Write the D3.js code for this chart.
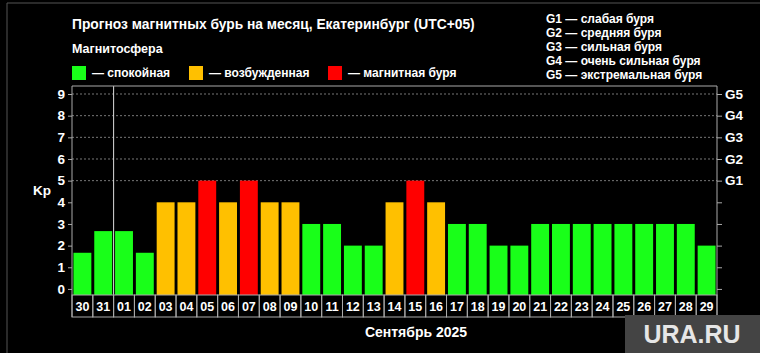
<!DOCTYPE html>
<html>
<script src="https://d3js.org/d3.v7.min.js"></script>
<style>
    body { margin: 0; background: #000; }
    text { font-family: "Liberation Sans", Arial, sans-serif; font-weight: bold; fill: #fff; }
</style>
<body></body>
<script>
    const width = 760, height = 353;

    const days = ["30", "31", "01", "02", "03", "04", "05", "06", "07", "08", "09", "10", "11", "12", "13", "14",
        "15", "16", "17", "18", "19", "20", "21", "22", "23", "24", "25", "26", "27", "28", "29"];
    const kp = [1.67, 2.67, 2.67, 1.67, 4, 4, 5, 4, 5, 4, 4, 3, 3, 2, 2, 4,
        5, 4, 3, 3, 2, 2, 3, 3, 3, 3, 3, 3, 3, 3, 2];
    const levels = ["спокойная", "возбужденная", "магнитная буря"];
    const levelColors = ["#19ff19", "#ffc000", "#ff0000"];
    const leftTicks = [0, 1, 2, 3, 4, 5, 6, 7, 8, 9];
    const gTicks = [5, 6, 7, 8, 9];
    const gLabels = ["G1", "G2", "G3", "G4", "G5"];
    const gNames = ["слабая буря", "средняя буря", "сильная буря", "очень сильная буря", "экстремальная буря"];

    const level = v => v >= 5 ? 2 : (v >= 4 ? 1 : 0);

    const svg = d3.select("body").append("svg").attr("width", width).attr("height", height);

    // frame
    svg.append("path").attr("d", "M7,353V3H760").attr("fill", "none").attr("stroke", "#555").attr("stroke-width", 1);

    const pLeft = 72, pRight = 717, pTop = 86, pBottom = 295, labelBottom = 317;
    const x = d3.scaleBand().domain(days).range([pLeft, pRight]).paddingInner(0.14).paddingOuter(0.07);
    const y = d3.scaleLinear().domain([-0.28, 9.37]).range([pBottom, pTop]);
    const step = x.step();

    // titles
    svg.append("text").attr("x", 72).attr("y", 29).attr("font-size", 13.8)
        .text("Прогноз магнитных бурь на месяц, Екатеринбург (UTC+05)");
    svg.append("text").attr("x", 72).attr("y", 53).attr("font-size", 12.5).text("Магнитосфера");

    const legX = [72, 189, 328];
    const leg = svg.selectAll(".leg").data(levels).join("g").attr("class", "leg")
        .attr("transform", (d, i) => `translate(${legX[i]},66)`);
    leg.append("rect").attr("width", 14).attr("height", 14).attr("fill", (d, i) => levelColors[i]);
    leg.append("text").attr("x", 20).attr("y", 11).attr("font-size", 12).text(d => "— " + d);

    svg.selectAll(".gleg").data(gNames).join("text").attr("class", "gleg")
        .attr("x", 546).attr("y", (d, i) => 23 + i * 14).attr("font-size", 12)
        .text((d, i) => gLabels[i] + " — " + d);

    // grid
    svg.selectAll(".grid").data(gTicks).join("line").attr("class", "grid")
        .attr("x1", pLeft).attr("x2", pRight).attr("y1", d => y(d)).attr("y2", d => y(d))
        .attr("stroke", "#777").attr("stroke-dasharray", "2,2");

    // bars
    svg.selectAll(".bar").data(kp).join("rect").attr("class", "bar")
        .attr("x", (d, i) => x(days[i])).attr("width", x.bandwidth())
        .attr("y", d => y(d)).attr("height", d => pBottom - y(d))
        .attr("fill", d => levelColors[level(d)]);

    // month separator
    const sep = x("01") - step * 0.07;
    svg.append("line").attr("x1", sep).attr("x2", sep).attr("y1", pTop).attr("y2", pBottom)
        .attr("stroke", "#ddd").attr("stroke-width", 1);

    // axes
    const yl = svg.append("g").attr("transform", `translate(${pLeft},0)`)
        .call(d3.axisLeft(y).tickValues(leftTicks).tickSize(4).tickPadding(3));
    yl.select(".domain").remove();
    yl.selectAll("line").attr("stroke", "#aaa");
    yl.selectAll("text").attr("font-size", 13.5).attr("font-family", null).attr("fill", "#fff");

    const yr = svg.append("g").attr("transform", `translate(${pRight},0)`)
        .call(d3.axisRight(y).tickValues(leftTicks).tickSize(5).tickPadding(3)
            .tickFormat(d => d >= 5 ? gLabels[d - 5] : ""));
    yr.select(".domain").remove();
    yr.selectAll("line").attr("stroke", "#aaa");
    yr.selectAll("text").attr("font-size", 13.5).attr("font-family", null).attr("fill", "#fff");

    // day label cells
    const cellX = d => x(d) - step * 0.07;
    svg.selectAll(".cell").data(days).join("rect").attr("class", "cell")
        .attr("x", cellX).attr("y", pBottom).attr("width", step).attr("height", labelBottom - pBottom)
        .attr("fill", "none").attr("stroke", "#aaa");
    svg.selectAll(".day").data(days).join("text").attr("class", "day")
        .attr("x", d => x(d) + x.bandwidth() / 2).attr("y", 311).attr("text-anchor", "middle")
        .attr("font-size", 12.5).text(d => d);

    // plot border
    svg.append("path").attr("d", `M${pLeft},${labelBottom}V${pTop}H${pRight}V${labelBottom}`)
        .attr("fill", "none").attr("stroke", "#aaa");

    svg.append("text").attr("x", 33).attr("y", 195).attr("font-size", 13.5).text("Kp");
    svg.append("text").attr("x", 416).attr("y", 337).attr("text-anchor", "middle").attr("font-size", 14)
        .text("Сентябрь 2025");

    // watermark
    svg.append("rect").attr("x", 625).attr("y", 315).attr("width", 135).attr("height", 38).attr("fill", "#444");
    svg.append("text").attr("x", 692).attr("y", 343).attr("text-anchor", "middle").attr("font-size", 25)
        .style("fill", "#e6e6e6").text("URA.RU");
</script>
</html>
